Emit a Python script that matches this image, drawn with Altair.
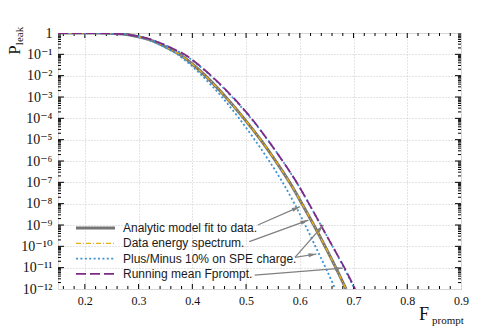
import math
import altair as alt
import pandas as pd

# ---------------- data ----------------
# log10(P_leak) levels at which the curves were read
levels = [0.0, 0.0, -0.05, -0.15, -0.3, -0.5, -0.75, -1.0, -1.5, -2.0, -3.0, -4.0,
          -5.0, -6.0, -7.0, -8.0, -9.0, -10.0, -11.0, -12.0]

# Fprompt positions of each curve at those levels
analytic_x = [0.15, 0.22, 0.27, 0.295, 0.318, 0.338, 0.358, 0.376, 0.402, 0.424, 0.462, 0.496,
              0.527, 0.555, 0.581, 0.604, 0.626, 0.647, 0.667, 0.686]
data_x     = [0.15, 0.22, 0.27, 0.295, 0.318, 0.338, 0.358, 0.376, 0.402, 0.424, 0.462, 0.496,
              0.527, 0.555, 0.581, 0.604, 0.626, 0.647, 0.667, 0.686]
minus_x    = [0.15, 0.22, 0.268, 0.294, 0.316, 0.335, 0.355, 0.372, 0.397, 0.418, 0.455, 0.487,
              0.516, 0.543, 0.568, 0.590, 0.610, 0.629, 0.648, 0.666]
plus_x     = [0.15, 0.22, 0.27, 0.297, 0.322, 0.343, 0.365, 0.384, 0.411, 0.434, 0.474, 0.509,
              0.540, 0.568, 0.594, 0.617, 0.639, 0.661, 0.682, 0.702]
running_x  = [0.15, 0.22, 0.27, 0.297, 0.322, 0.343, 0.365, 0.385, 0.412, 0.435, 0.475, 0.510,
              0.540, 0.568, 0.594, 0.617, 0.639, 0.661, 0.683, 0.703]

legend_labels = ["Analytic model fit to data.", "Data energy spectrum.",
                 "Plus/Minus 10% on SPE charge.", "Running mean Fprompt."]

# annotation arrows (data coordinates: x, log10 P)
arrow_x1 = [0.522, 0.506, 0.591, 0.591, 0.516]
arrow_l1 = [-9.0, -9.78, -10.52, -10.52, -11.35]
arrow_x2 = [0.600, 0.616, 0.644, 0.631, 0.680]
arrow_l2 = [-8.14, -8.77, -9.0, -10.36, -11.02]

x_major = [0.2, 0.3, 0.4, 0.5, 0.6, 0.7, 0.8, 0.9]
y_exponents = list(range(0, -13, -1))

# ---------------- layout / style ----------------
W, H = 403, 256
X_DOM = [0.15, 0.9]
SERIF = "Liberation Serif, DejaVu Serif, serif"
SANS = "Liberation Sans, Arial, sans-serif"

styles = {
    legend_labels[0]: dict(color="#757575", strokeWidth=3.0),
    legend_labels[1]: dict(color="#E8B010", strokeWidth=1.3, strokeDash=[5, 2, 1, 2]),
    legend_labels[2]: dict(color="#3D93D3", strokeWidth=1.8, strokeDash=[2, 2.4]),
    legend_labels[3]: dict(color="#802A88", strokeWidth=1.8, strokeDash=[10, 4]),
}

xscale = alt.Scale(domain=X_DOM, nice=False, zero=False)
yscale = alt.Scale(type="log", domain=[1e-12, 1], nice=False)

sup = str.maketrans("-0123456789", "⁻⁰¹²³⁴⁵⁶⁷⁸⁹")
ylabels = ["1"] + ["10" + str(e).translate(sup) for e in y_exponents[1:]]
label_expr = "[" + ",".join("'" + s + "'" for s in ylabels) + "][round(-log(datum.value)/LN10)]"

X_AXIS = alt.Axis(values=x_major, format=".1f", grid=True, gridDash=[1, 2],
                  gridColor="#c8c8c8", ticks=False, domain=False,
                  labelFont=SERIF, labelFontSize=12, labelColor="#111",
                  labelPadding=6, labelFlush=False, title=None)
Y_AXIS = alt.Axis(values=[10.0 ** e for e in y_exponents], labelExpr=label_expr,
                  grid=True, gridDash=[1, 2], gridColor="#c8c8c8", ticks=False,
                  domain=False, labelFont=SERIF, labelFontSize=14, labelColor="#111",
                  labelPadding=6, title=None)

def X(field):
    return alt.X(field, scale=xscale, axis=X_AXIS, title=None)

def Y(field):
    return alt.Y(field, scale=yscale, axis=Y_AXIS, title=None)

def curve_df(xs, series, curve):
    return pd.DataFrame({"x": xs, "P": [10 ** v for v in levels],
                         "series": series, "curve": curve})

curves = [
    (curve_df(analytic_x, legend_labels[0], "a"), legend_labels[0]),
    (curve_df(data_x, legend_labels[1], "d"), legend_labels[1]),
    (curve_df(minus_x, legend_labels[2], "m"), legend_labels[2]),
    (curve_df(plus_x, legend_labels[2], "p"), legend_labels[2]),
    (curve_df(running_x, legend_labels[3], "r"), legend_labels[3]),
]

layers = []

# inward ticks
xminor = [round(0.16 + 0.02 * i, 2) for i in range(38)]
xminor = [v for v in xminor if all(abs(v - m) > 1e-9 for m in x_major) and v < 0.9]
yminor = [m * 10.0 ** e for e in range(-12, 0) for m in range(2, 10)]
ymajor = [10.0 ** e for e in range(-11, 0)]

def xticks(vals, length):
    df = pd.DataFrame({"x": vals})
    b = alt.Chart(df).mark_rule(color="black", strokeWidth=1).encode(
        x=X("x:Q"), y=alt.value(H), y2=alt.value(H - length))
    t = alt.Chart(df).mark_rule(color="black", strokeWidth=1).encode(
        x=X("x:Q"), y=alt.value(0), y2=alt.value(length))
    return [b, t]

def yticks(vals, length):
    df = pd.DataFrame({"P": vals})
    l = alt.Chart(df).mark_rule(color="black", strokeWidth=1).encode(
        y=Y("P:Q"), x=alt.value(0), x2=alt.value(length))
    r = alt.Chart(df).mark_rule(color="black", strokeWidth=1).encode(
        y=Y("P:Q"), x=alt.value(W - length), x2=alt.value(W))
    return [l, r]

layers += xticks(x_major[:-1], 5) + xticks(xminor, 3)
layers += yticks(ymajor, 6) + yticks(yminor, 3)

# curves
for df, s in curves:
    layers.append(
        alt.Chart(df).mark_line(interpolate="monotone", clip=True, **styles[s]).encode(
            x=X("x:Q"), y=Y("P:Q"), detail="curve:N",
        )
    )

# arrows
def px(x):
    return (x - X_DOM[0]) / (X_DOM[1] - X_DOM[0]) * W

def py(l):
    return -l / 12.0 * H

angles = []
for x1, l1, x2, l2 in zip(arrow_x1, arrow_l1, arrow_x2, arrow_l2):
    dx, dy = px(x2) - px(x1), py(l2) - py(l1)
    angles.append(math.degrees(math.atan2(dx, -dy)) % 360)

arrows = pd.DataFrame({"x": arrow_x1, "P": [10 ** v for v in arrow_l1],
                       "x2": arrow_x2, "P2": [10 ** v for v in arrow_l2],
                       "ang": angles})
layers.append(alt.Chart(arrows).mark_rule(color="#808080", strokeWidth=1.2).encode(
    x=X("x:Q"), y=Y("P:Q"), x2="x2:Q", y2="P2:Q"))
layers.append(alt.Chart(arrows).mark_point(
    shape="M0,0L0.5,2L-0.5,2Z", filled=True, color="#808080", opacity=1, size=64).encode(
    x=X("x2:Q"), y=Y("P2:Q"), angle=alt.Angle("ang:Q", scale=None)))

# legend (drawn inside the plot)
for i, s in enumerate(legend_labels):
    row = 195 + 15.3 * i
    st = styles[s]
    layers.append(alt.Chart(pd.DataFrame({"a": [0]})).mark_rule(**st).encode(
        x=alt.value(18), x2=alt.value(57), y=alt.value(row)))
    layers.append(alt.Chart(pd.DataFrame({"t": [s]})).mark_text(
        align="left", baseline="middle", font=SANS, fontSize=12, color="#1a1a1a").encode(
        x=alt.value(65), y=alt.value(row), text="t:N"))

# axis titles with sub-scripts
def txt(t, xv, yv, size, angle=0):
    return alt.Chart(pd.DataFrame({"t": [t]})).mark_text(
        font=SERIF, fontSize=size, color="#111", align="center", baseline="middle",
        angle=angle).encode(x=alt.value(xv), y=alt.value(yv), text="t:N")

layers += [txt("P", -43, 17, 17, 270), txt("leak", -38, 3, 11, 270),
           txt("F", 366, 282, 18), txt("prompt", 390, 288, 11)]

chart = alt.layer(*layers).properties(
    width=W, height=H, autosize="none",
    padding={"left": 50, "top": 25, "right": 16, "bottom": 40},
).configure_view(stroke="black", strokeWidth=1).configure(background="white")

chart.save("out.html", embed_options={"renderer": "svg", "actions": False})
